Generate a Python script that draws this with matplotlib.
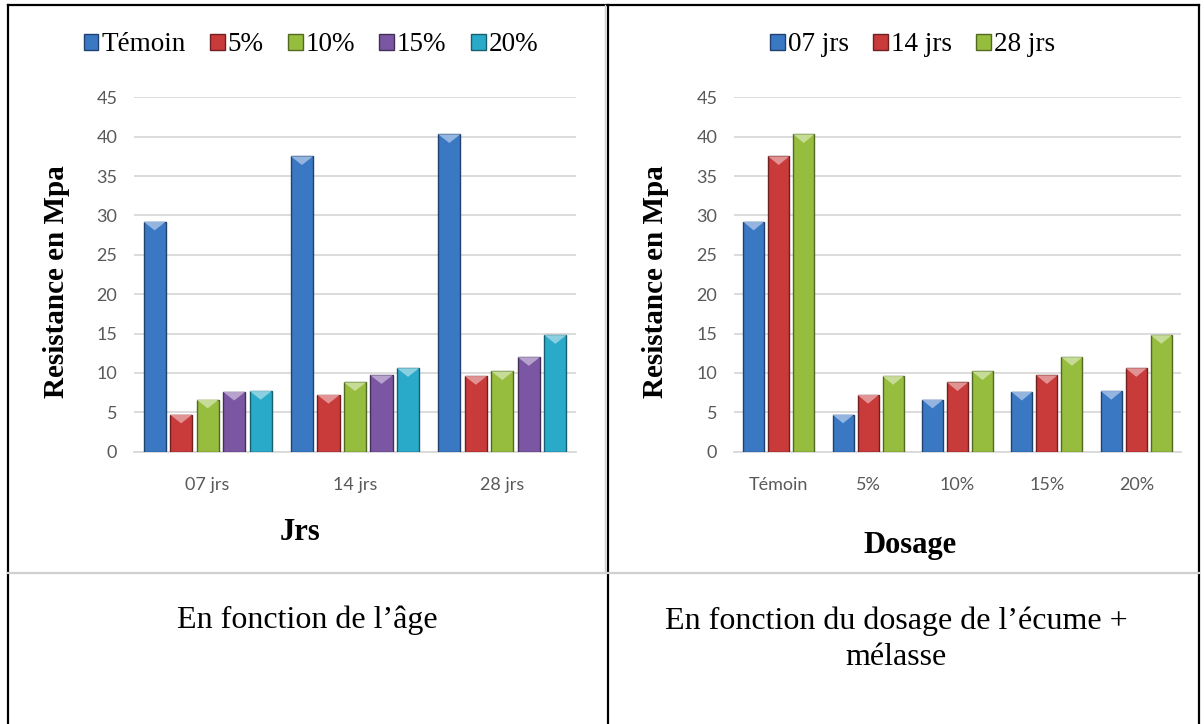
import matplotlib
matplotlib.use("Agg")
import matplotlib.pyplot as plt
import numpy as np

# donnees (resistance en MPa)
ages = ["07 jrs", "14 jrs", "28 jrs"]
dosages = ["Témoin", "5%", "10%", "15%", "20%"]
temoin = [29.2, 37.5, 40.3]
dos5 = [4.7, 7.2, 9.6]
dos10 = [6.6, 8.8, 10.2]
dos15 = [7.6, 9.7, 12.0]
dos20 = [7.7, 10.6, 14.8]
yticks = [0, 5, 10, 15, 20, 25, 30, 35, 40, 45]

col_bleu = "#3a78c4"
col_rouge = "#c93a3a"
col_vert = "#97bd3e"
col_violet = "#7a56a3"
col_cyan = "#2aaac9"

serif = "Liberation Serif"
sans = "Lato"


def sombre(c, f=0.55):
    r, g, b = matplotlib.colors.to_rgb(c)
    return (r * f, g * f, b * f)


def clair(c, f=0.45):
    r, g, b = matplotlib.colors.to_rgb(c)
    return (r + (1 - r) * f, g + (1 - g) * f, b + (1 - b) * f)


def barres(ax, x, h, w, couleur, label):
    bars = ax.bar(x, h, w, color=couleur, edgecolor=sombre(couleur), linewidth=1.0,
                  label=label, zorder=3)
    # petit biseau en haut de chaque barre
    for b in bars:
        x0 = b.get_x()
        bw = b.get_width()
        top = b.get_height()
        ax.fill([x0, x0 + bw, x0 + bw / 2], [top, top, top - 1.1],
                color=clair(couleur), zorder=4, lw=0)
    return bars


def style_axe(ax, cats, titre, xt, yt):
    ax.set_ylim(0, 45)
    ax.set_yticks(yticks)
    ax.set_xlim(-0.5, len(cats) - 0.5)
    ax.set_xticks(range(len(cats)))
    ax.set_xticklabels(cats)
    ax.yaxis.grid(True, color="#d9d9d9", lw=1.3, zorder=0)
    ax.set_axisbelow(True)
    for s in ["top", "right", "left"]:
        ax.spines[s].set_visible(False)
    ax.spines["bottom"].set_color("#d9d9d9")
    ax.spines["bottom"].set_linewidth(1.3)
    ax.tick_params(length=0, labelsize=13, labelcolor="#595959", pad=12)
    ax.tick_params(axis="x", pad=18)
    for t in ax.get_xticklabels() + ax.get_yticklabels():
        t.set_fontfamily(sans)
    ax.set_ylabel("Resistance en Mpa", fontfamily=serif, fontweight="bold", fontsize=21)
    ax.yaxis.set_label_coords(-0.145, 0.479)
    ax.set_xlabel(titre, fontfamily=serif, fontweight="bold", fontsize=22)
    ax.xaxis.label.set_va("center")
    ax.xaxis.set_label_coords(xt, yt)


fig = plt.figure(figsize=(12.04, 7.24), dpi=100)

# graphique 1 : en fonction de l'age
ax1 = fig.add_axes([134 / 1204, 1 - 451.7 / 724, 442 / 1204, 354.4 / 724])
x = np.arange(len(ages))
series1 = [temoin, dos5, dos10, dos15, dos20]
couleurs1 = [col_bleu, col_rouge, col_vert, col_violet, col_cyan]
pas = 0.18
for i, (s, c, lab) in enumerate(zip(series1, couleurs1, dosages)):
    barres(ax1, x + (i - 2) * pas, s, 0.15, c, lab)
style_axe(ax1, ages, "Jrs", (300 - 134) / 442, -(533 - 451.7) / 354.4)
ax1.legend(loc="center", bbox_to_anchor=(0.40, 1.148), ncol=5, frameon=False,
           prop={"family": serif, "size": 19.5}, handlelength=0.55, handleheight=0.55,
           handletextpad=0.1, columnspacing=0.9)

# graphique 2 : en fonction du dosage
ax2 = fig.add_axes([734 / 1204, 1 - 451.7 / 724, 447 / 1204, 354.4 / 724])
x2 = np.arange(len(dosages))
j07 = [temoin[0], dos5[0], dos10[0], dos15[0], dos20[0]]
j14 = [temoin[1], dos5[1], dos10[1], dos15[1], dos20[1]]
j28 = [temoin[2], dos5[2], dos10[2], dos15[2], dos20[2]]
pas2 = 0.28
for i, (s, c, lab) in enumerate(zip([j07, j14, j28], [col_bleu, col_rouge, col_vert], ages)):
    barres(ax2, x2 + (i - 1) * pas2, s, 0.235, c, lab)
style_axe(ax2, dosages, "Dosage", (910 - 734) / 447, -(545 - 451.7) / 354.4)
ax2.legend(loc="center", bbox_to_anchor=(0.40, 1.148), ncol=3, frameon=False,
           prop={"family": serif, "size": 19.5}, handlelength=0.55, handleheight=0.55,
           handletextpad=0.1, columnspacing=0.9)

# lignes du tableau
H = 724.0
W = 1204.0
def ligne(x0, y0, x1, y1, c="black", lw=1.6):
    fig.add_artist(plt.Line2D([x0 / W, x1 / W], [1 - y0 / H, 1 - y1 / H],
                              color=c, lw=lw, transform=fig.transFigure))

ligne(8, 5, 1199, 5)
ligne(8, 5, 8, 724)
ligne(1199, 5, 1199, 724)
ligne(608, 5, 608, 724)
ligne(605, 5, 605, 573, c="#d0d0d0", lw=1.0)
ligne(8, 573, 1199, 573, c="#d0d0d0", lw=1.6)

fig.text(307 / W, 1 - 620 / H, "En fonction de l\u2019âge", ha="center", va="center",
         fontfamily=serif, fontsize=23)
fig.text(896 / W, 1 - 639 / H, "En fonction du dosage de l\u2019écume +\nmélasse",
         ha="center", va="center", fontfamily=serif, fontsize=23, linespacing=1.3)

fig.savefig("out.png", dpi=100)
